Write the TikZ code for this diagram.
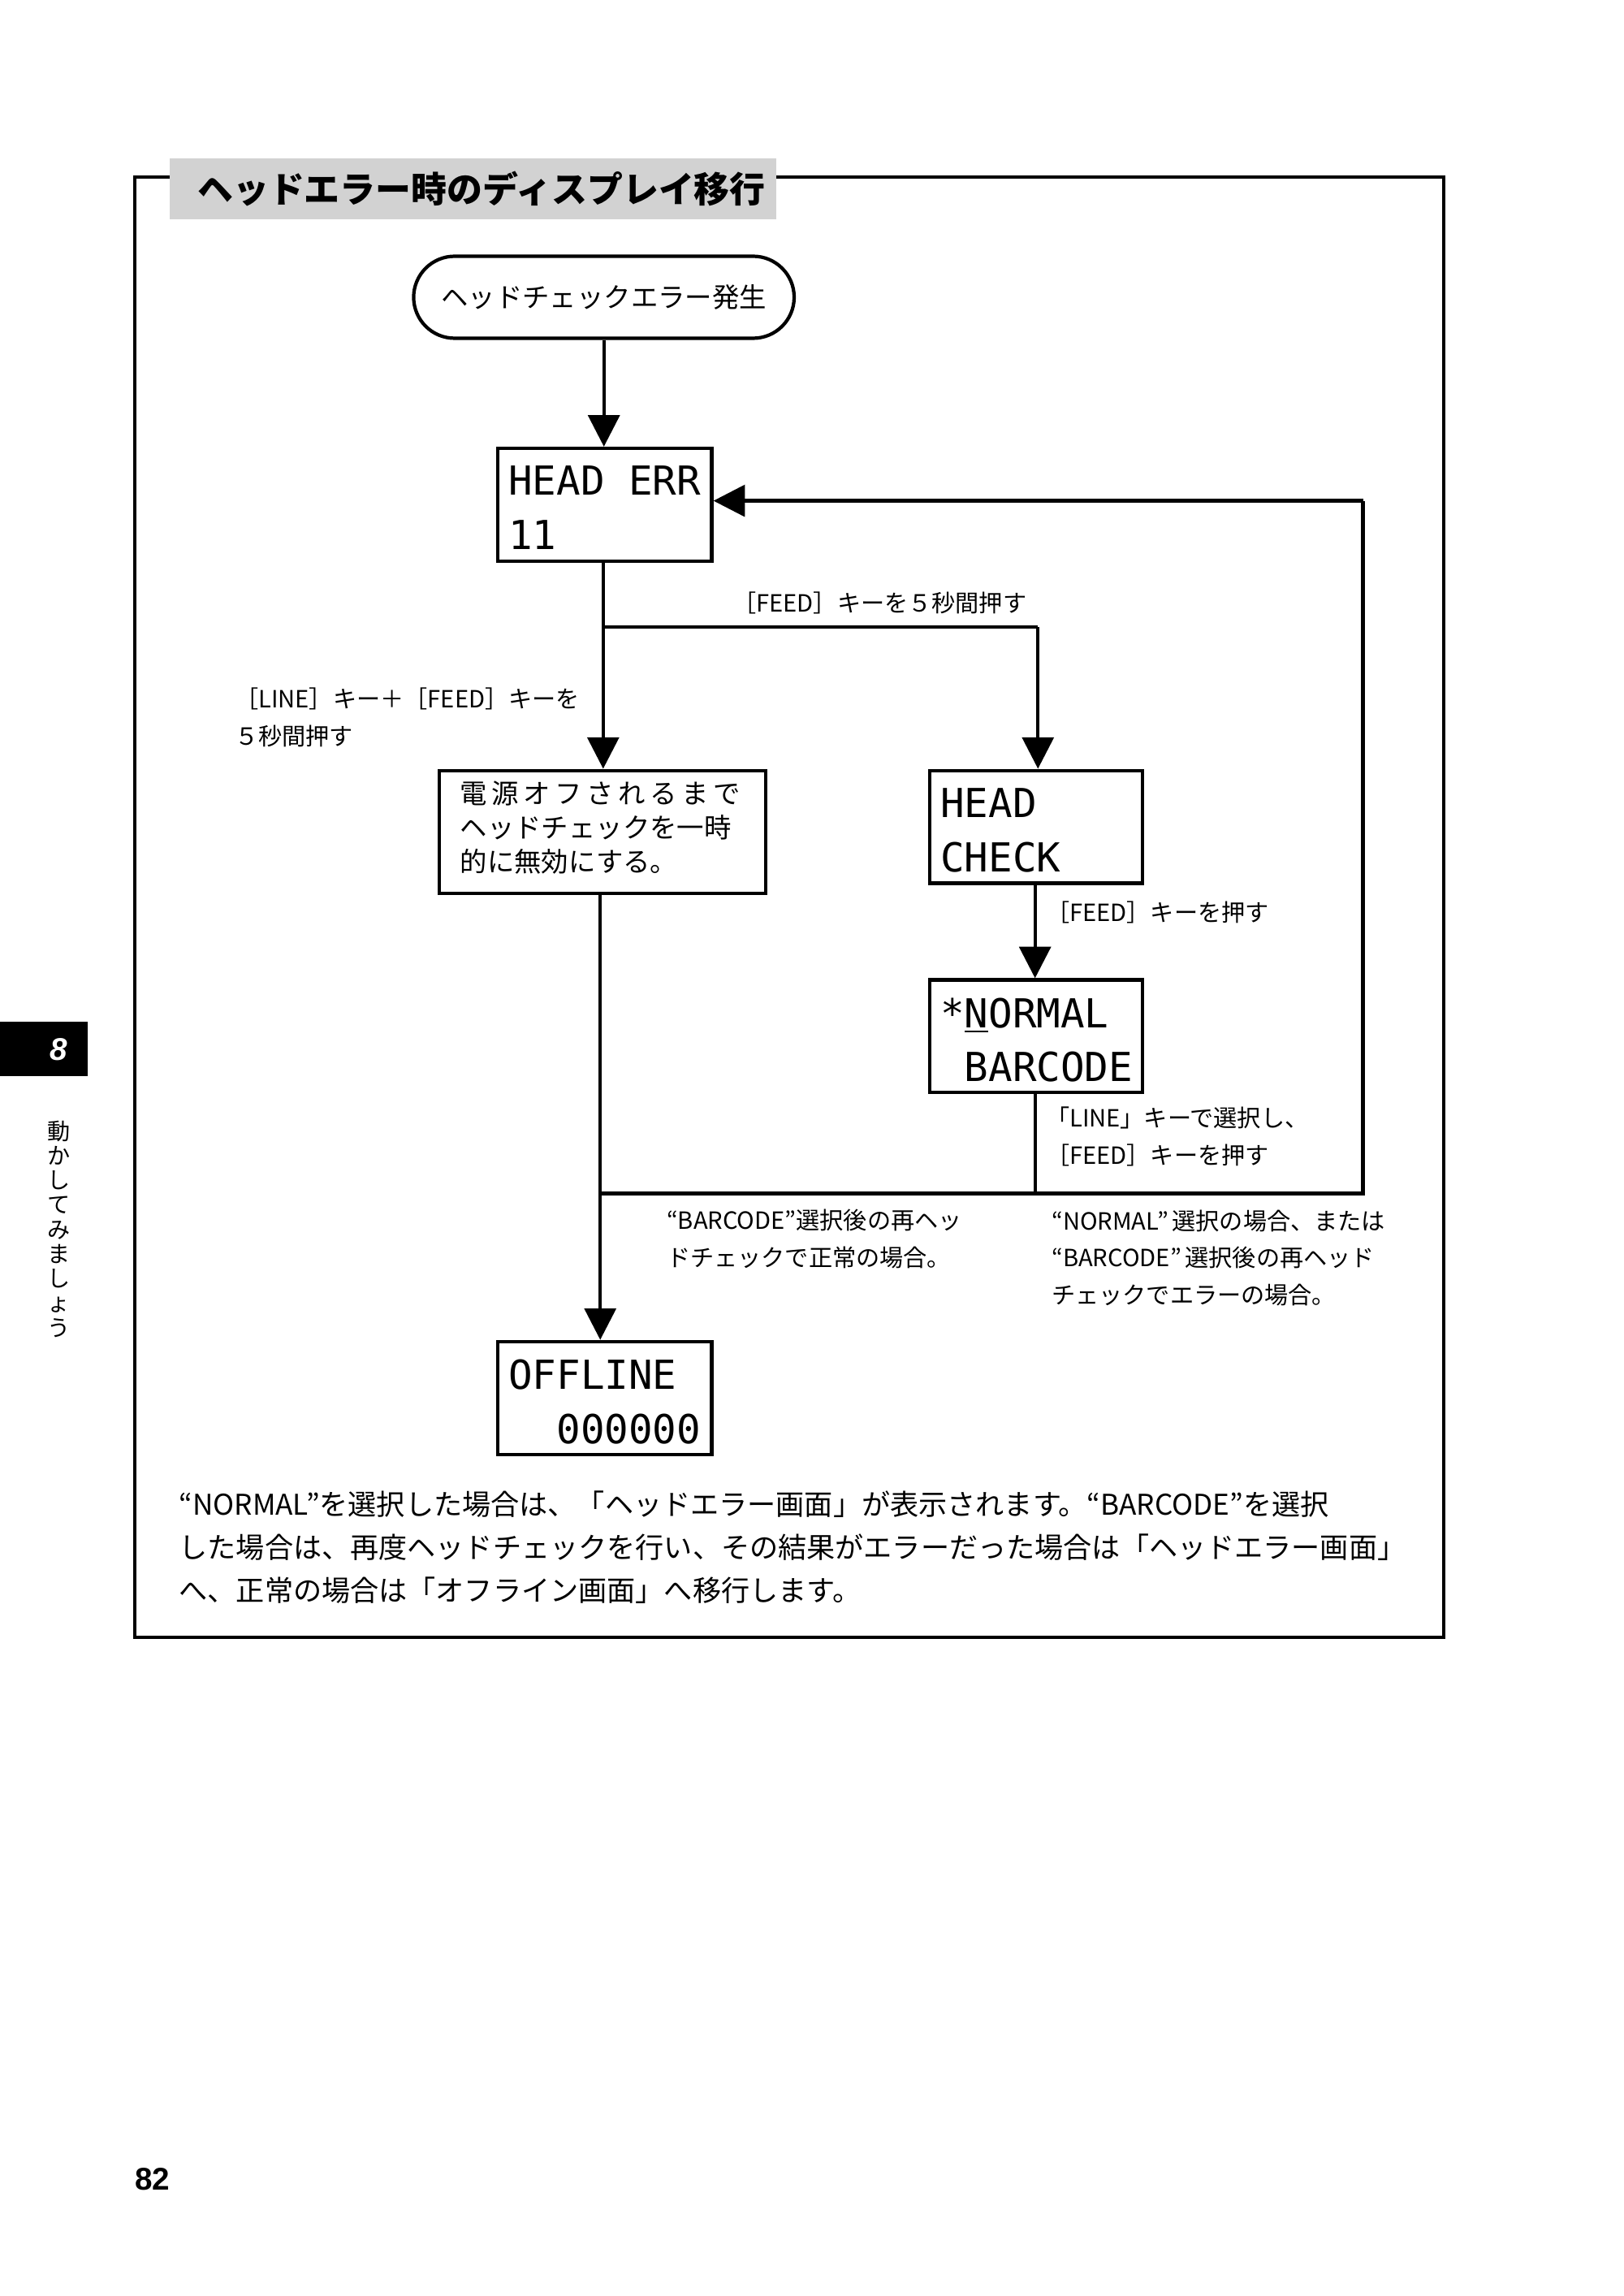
\documentclass[tikz,border=0pt]{standalone}
\usepackage{fontspec}
\setmainfont{Noto Sans CJK JP}
\newfontfamily\lcd{DejaVu Sans Mono}
\newfontfamily\latin{Liberation Sans}
\usetikzlibrary{positioning,arrows.meta,shapes.misc}
\tikzset{
  box/.style={draw,line width=1.2pt,anchor=north west,inner sep=0pt},
  lcdtxt/.style={font=\lcd\fontsize{14}{19}\selectfont,align=left,anchor=north west,inner sep=0pt},
  lbl/.style={font=\fontsize{8.3}{13}\selectfont,align=left,anchor=west,inner sep=0pt},
  flow/.style={line width=1.2pt,-{Triangle[length=11pt,width=11pt]}},
  wire/.style={line width=1.2pt}
}
\begin{document}
\begin{tikzpicture}[x=0.01803cm,y=-0.01803cm]
  \useasboundingbox (0,0) rectangle (1109,1568);

  % Frame and title
  \draw[line width=1.2pt] (92,121) rectangle (986,1118);
  \fill[gray!35] (116,108) rectangle (530,150);
  \node[font=\bfseries\fontsize{12.5}{14}\selectfont,anchor=west] (title) at (128,129) {ヘッドエラー時のディスプレイ移行};

  % Start
  \node[draw,line width=1.2pt,rounded rectangle,minimum height=56*0.01803cm,inner xsep=9pt,font=\fontsize{9.5}{11}\selectfont] (start) at (412.5,203) {ヘッドチェックエラー発生};

  % Displays
  \node[box,minimum width=146*0.01803cm,minimum height=77*0.01803cm] (err) at (339,305) {};
  \node[lcdtxt] at (347,318) {HEAD ERR\\11};
  \node[box,minimum width=223*0.01803cm,minimum height=84*0.01803cm] (off) at (299,525) {};
  \node[lbl,anchor=north west,font=\fontsize{9.5}{12}\selectfont] at (314,533) {電\,源\,オ\,フ\,さ\,れ\,る\,ま\,で\\ヘッドチェックを一時\\的に無効にする。};
  \node[box,minimum width=145*0.01803cm,minimum height=77*0.01803cm] (chk) at (634,525) {};
  \node[lcdtxt] at (642,538) {HEAD\\CHECK};
  \node[box,minimum width=145*0.01803cm,minimum height=77*0.01803cm] (sel) at (634,668) {};
  \node[lcdtxt] at (642,681) {*\underline{N}ORMAL\\\ BARCODE};
  \node[box,minimum width=146*0.01803cm,minimum height=77*0.01803cm] (offl) at (339,915) {};
  \node[lcdtxt] at (347,928) {OFFLINE\\\ \ 000000};

  % Junctions
  \coordinate (j1) at (412,428);
  \coordinate (j2) at (709,428);
  \coordinate (j3) at (707,815);
  \coordinate (j4) at (410,815);
  \coordinate (j5) at (931,815);
  \coordinate (j6) at (931,342);

  % Connectors
  \draw[flow] (start.south) -- (err.north -| start.south);
  \draw[wire] (err.south -| j1) -- (j1) -- (j2);
  \draw[flow] (j2) -- (chk.north -| j2);
  \draw[flow] (j1) -- (off.north -| j1);
  \draw[flow] (chk.south -| j3) -- (sel.north -| j3);
  \draw[wire] (sel.south -| j3) -- (j3);
  \draw[wire] (j4) -- (j5) -- (j6);
  \draw[flow] (j6) -- (err.east |- j6);
  \draw[flow] (off.south -| j4) -- (offl.north -| j4);

  % Labels
  \node[lbl] (l1) at (500,412) {［FEED］キーを５秒間押す};
  \node[lbl] (l2) at (160,490) {［LINE］キー＋［FEED］キーを\\５秒間押す};
  \node[lbl] (l3) at (714,623) {［FEED］キーを押す};
  \node[lbl] (l4) at (714,776) {「LINE」キーで選択し、\\［FEED］キーを押す};
  \node[lbl] (l5) at (455,846) {“BARCODE”選択後の再ヘッ\\ドチェックで正常の場合。};
  \node[lbl] (l6) at (718,859) {“NORMAL”\,選択の場合、または\\“BARCODE”\,選択後の再ヘッド\\チェックでエラーの場合。};

  % Note
  \node[anchor=north west,align=left,inner sep=0pt,font=\fontsize{10}{15}\selectfont] (note) at (122,1018) {“NORMAL”を選択した場合は、「ヘッドエラー画面」が表示されます。“BARCODE”を選択\\した場合は、再度ヘッドチェックを行い、その結果がエラーだった場合は「ヘッドエラー画面」\\へ、正常の場合は「オフライン画面」へ移行します。};

  % Side tab and page number
  \fill[black] (0,698) rectangle (60,735);
  \node[white,font=\latin\bfseries\itshape\fontsize{11}{12}\selectfont] (tab) at (40,716.5) {8};
  \node[align=center,font=\fontsize{8}{8.6}\selectfont,inner sep=0pt,anchor=north] (side) at (40,765) {動\\か\\し\\て\\み\\ま\\し\\ょ\\う};
  \node[font=\latin\bfseries\fontsize{11}{12}\selectfont] (page) at (104,1488) {82};
\end{tikzpicture}
\end{document}
